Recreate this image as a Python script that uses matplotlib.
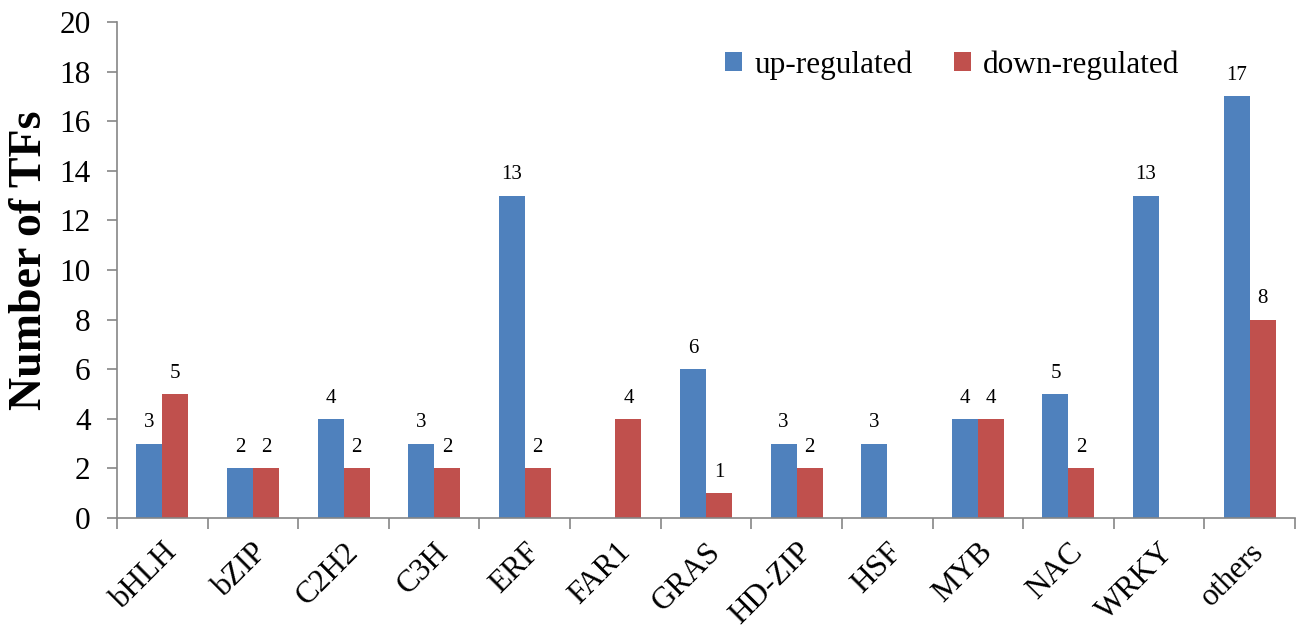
import matplotlib
matplotlib.use("Agg")
import matplotlib.pyplot as plt
import numpy as np

families = ["bHLH", "bZIP", "C2H2", "C3H", "ERF", "FAR1", "GRAS",
            "HD-ZIP", "HSF", "MYB", "NAC", "WRKY", "others"]
up_regulated = [3, 2, 4, 3, 13, 0, 6, 3, 3, 4, 5, 13, 17]
down_regulated = [5, 2, 2, 2, 2, 4, 1, 2, 0, 4, 2, 0, 8]
series_names = ["up-regulated", "down-regulated"]
y_ticks = list(range(0, 21, 2))

plt.rcParams["font.family"] = ["Liberation Serif", "DejaVu Serif"]

BLUE = "#4F81BD"
RED = "#C0504D"
AXIS = "#868686"

fig = plt.figure(figsize=(13.03, 6.28), dpi=100)
ax = fig.add_axes([117 / 1303, 110 / 628, 1178 / 1303, 496 / 628])

x = np.arange(len(families))
w = 0.287
bars_up = ax.bar(x - w / 2, up_regulated, w, color=BLUE, label=series_names[0])
bars_dn = ax.bar(x + w / 2, down_regulated, w, color=RED, label=series_names[1])

for bars, vals in ((bars_up, up_regulated), (bars_dn, down_regulated)):
    for b, v in zip(bars, vals):
        if v:
            ax.annotate(str(v), (b.get_x() + b.get_width() / 2, v),
                        xytext=(0, 8), textcoords="offset points",
                        ha="center", va="bottom", fontsize=15)

ax.set_xlim(-0.5, len(families) - 0.5)
ax.set_ylim(0, 20)
ax.set_yticks(y_ticks)
ax.tick_params(axis="y", labelsize=22.5, length=7, color=AXIS, width=1.2, pad=12)

ax.set_xticks(x)
ax.set_xticklabels(families, rotation=45, ha="right", rotation_mode="anchor",
                   fontsize=22.5)
ax.tick_params(axis="x", which="major", length=0, pad=14)
ax.set_xticks(np.arange(len(families) + 1) - 0.5, minor=True)
ax.tick_params(axis="x", which="minor", length=8, color=AXIS, width=1.2)

for side in ("top", "right"):
    ax.spines[side].set_visible(False)
for side in ("left", "bottom"):
    ax.spines[side].set_color(AXIS)
    ax.spines[side].set_linewidth(1.2)

ax.set_ylabel("Number of TFs", fontsize=33, fontweight="bold")
ax.yaxis.set_label_coords(-0.056, 0.52)

ax.legend(loc="upper left", bbox_to_anchor=(0.503, 0.975), ncol=2, frameon=False,
          fontsize=22.5, handlelength=0.55, handleheight=0.55, handletextpad=0.4,
          columnspacing=1.3, borderpad=0)

fig.savefig("out.png", dpi=100)
